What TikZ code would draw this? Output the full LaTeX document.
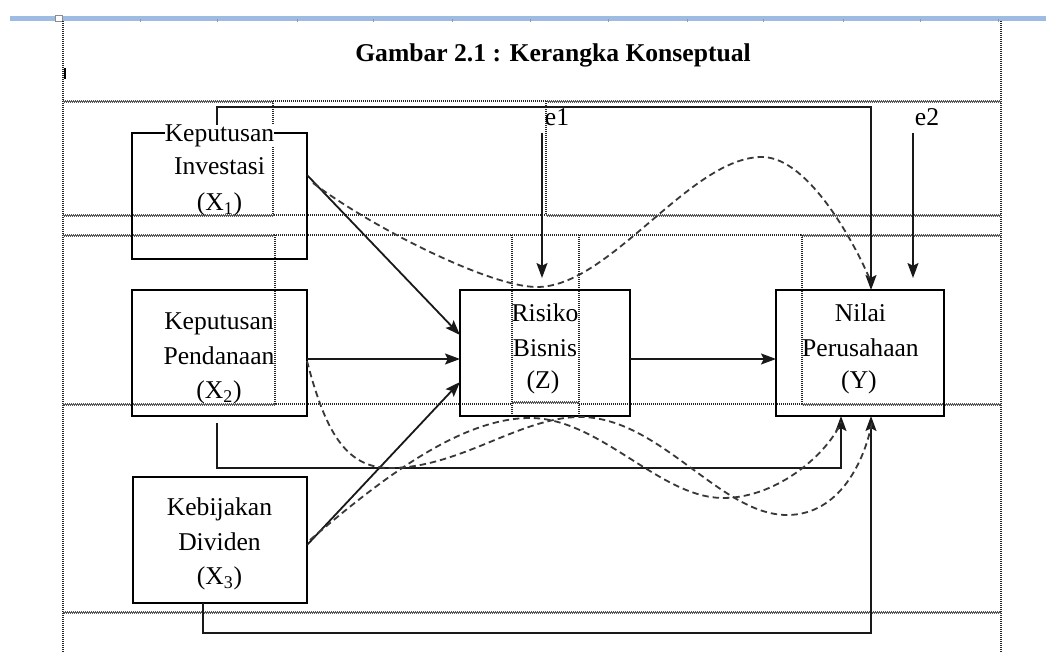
\documentclass[tikz,border=0pt]{standalone}
\usepackage{fontspec}
\setmainfont{Liberation Serif}
\usetikzlibrary{arrows.meta,calc}
\definecolor{rulerblue}{RGB}{157,187,227}
\newcommand\bodyfnt{\fontsize{12.8pt}{15pt}\selectfont}
\newcommand\titlefnt{\fontsize{12.8pt}{15pt}\selectfont\bfseries}
\begin{document}
\begin{tikzpicture}[x=0.5pt,y=-0.5pt,
  every node/.style={inner sep=0pt,outer sep=0pt},
  box/.style={draw=black,line width=0.85pt,rectangle},
  lbl/.style={anchor=base,font=\bodyfnt},
  conn/.style={draw=black!90,line width=0.9pt,-{Stealth[length=7.5pt,width=5.5pt,inset=1.4pt]}},
  dashcurve/.style={draw=black!78,line width=0.9pt,dash pattern=on 3.2pt off 2pt},
  tdot/.style={draw=black!85,line width=0.6pt,dash pattern=on 0.5pt off 0.5pt},
  twavy/.style={draw=black!65,line width=0.6pt,dash pattern=on 0.5pt off 0.5pt,
    preaction={draw=black!65,line width=0.6pt,dash pattern=on 0.5pt off 0.5pt,dash phase=0.5pt,transform canvas={yshift=-0.5pt}}},
]
\useasboundingbox (0,0) rectangle (1046,652);
\fill[white] (0,0) rectangle (1046,652);

% ruler bar
\fill[rulerblue] (10,16) rectangle (1046,21);
\foreach \t in {140,217,297,373,452,530,608,687,763,843,920,998}
  \draw[black!40,line width=0.5pt] (\t,19) -- (\t,22);
\draw[black!45,fill=white,line width=0.4pt] (55,15) rectangle (62,21);

% table grid
\draw[tdot] (63,21) -- (63,652);
\draw[tdot] (1001,21) -- (1001,652);
\draw[black,line width=1pt] (64.5,68) -- (64.5,79);

\draw[twavy] (63,101) -- (273,101);
\draw[tdot]  (273,101) -- (547,101);
\draw[twavy] (547,101) -- (1001,101);

\draw[twavy] (63,215) -- (274,215);
\draw[tdot]  (274,215) -- (546,215);
\draw[twavy] (546,215) -- (1001,215);

\draw[twavy] (63,235) -- (274,235);
\draw[tdot]  (274,235) -- (801,235);
\draw[twavy] (801,235) -- (1001,235);

\draw[twavy] (63,404) -- (276,404);
\draw[tdot]  (276,404) -- (512,404);
\draw[twavy] (512,402) -- (579,402);
\draw[tdot]  (579,404) -- (802,404);
\draw[twavy] (802,404) -- (1001,404);

\draw[twavy] (63,612) -- (1001,612);

\draw[tdot] (273,101) -- (273,215);
\draw[tdot] (546,101) -- (546,215);
\draw[tdot] (275,235) -- (275,404);
\draw[tdot] (512,235) -- (512,414);
\draw[tdot] (579,235) -- (579,414);
\draw[tdot] (802,235) -- (802,404);

% title
\node[anchor=base,font=\titlefnt] (title) at (553,62) {Gambar 2.1 : Kerangka Konseptual};

% boxes
\node[box,minimum width=87.5pt,minimum height=63pt] (x1) at (219.5,196) {};
\node[box,minimum width=87.5pt,minimum height=63pt] (x2) at (219.5,353) {};
\node[box,minimum width=87pt,minimum height=63pt] (x3) at (220,540) {};
\node[box,minimum width=85pt,minimum height=63pt] (z) at (545,353) {};
\node[box,minimum width=84pt,minimum height=63pt] (y) at (860,353) {};

% error terms
\node[lbl] (e1) at (557,126) {e1};
\node[lbl] (e2) at (927,126) {e2};
\coordinate (e1s) at (542,133);
\coordinate (e2s) at (913,133);

% solid connectors
\draw[conn] ($(x1.east)+(0,-21)$) -- ($(z.west)+(0,-18)$);
\draw[conn] ($(x2.east)+(0,6)$) -- ($(z.west)+(0,6)$);
\draw[conn] ($(x3.east)+(0,5)$) -- ($(z.west)+(0,29)$);
\draw[conn] ($(z.east)+(0,6)$) -- ($(y.west)+(0,6)$);
\draw[conn] (e1s) -- ($(z.north)+(-3,-12)$);
\draw[conn] (e2s) -- ($(y.north)+(53,-12)$);
\draw[conn] ($(x1.north)+(-2.5,0)$) -- ++(0,-26) -| ($(y.north)+(11,0)$);
\draw[conn] ($(x2.south)+(-2.5,7)$) -- ++(0,45) -| ($(y.south)+(-19,0)$);
\draw[conn] ($(x3.south)+(-17,0)$) -- ++(0,30) -| ($(y.south)+(11,0)$);

% dashed indirect paths
\draw[dashcurve] ($(x1.east)+(6,-13)$) .. controls (373,228) and (490,287) .. (537,287)
  .. controls (610,287) and (690,157) .. (762,157)
  .. controls (810,157) and (858,250) .. ($(y.north)+(11,-8)$);
\draw[dashcurve] ($(x2.east)+(0,8)$) .. controls (325,430) and (345,468) .. (390,468)
  .. controls (460,468) and (520,417) .. (580,417)
  .. controls (660,417) and (720,515) .. (787,515)
  .. controls (840,515) and (865,460) .. ($(y.south)+(12,6)$);
\draw[dashcurve] ($(x3.east)+(3,0)$) .. controls (380,480) and (460,418) .. (530,418)
  .. controls (600,418) and (660,498) .. (723,498)
  .. controls (780,498) and (830,450) .. ($(y.south)+(-19,6)$);

% box texts
\node[lbl,fill=white] (x1a) at (219.5,142) {Keputusan};
\node[lbl] (x1b) at (219.5,175) {Investasi};
\node[lbl] (x1c) at (219.5,211) {(X\textsubscript{1})};
\node[lbl] (x2a) at (219,330) {Keputusan};
\node[lbl] (x2b) at (219,365) {Pendanaan};
\node[lbl] (x2c) at (219,399) {(X\textsubscript{2})};
\node[lbl] (x3a) at (219.5,516) {Kebijakan};
\node[lbl] (x3b) at (219.5,551) {Dividen};
\node[lbl] (x3c) at (219.5,585) {(X\textsubscript{3})};
\node[lbl] (za) at (545,322) {Risiko};
\node[lbl] (zb) at (545,357) {Bisnis};
\node[lbl] (zc) at (543,389) {(Z)};
\node[lbl] (ya) at (860.5,322) {Nilai};
\node[lbl] (yb) at (860.5,357) {Perusahaan};
\node[lbl] (yc) at (859,389) {(Y)};
\end{tikzpicture}
\end{document}
